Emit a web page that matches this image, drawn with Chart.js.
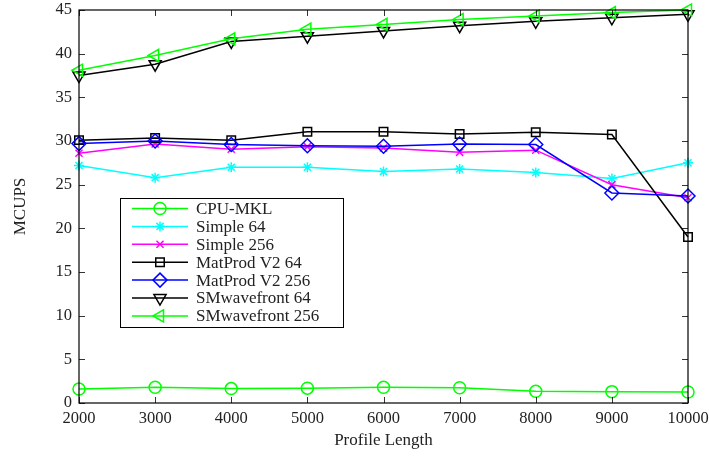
<!DOCTYPE html>
<html>
<head>
<meta charset="utf-8">
<script src="https://cdn.jsdelivr.net/npm/chart.js@4/dist/chart.umd.min.js"></script>
<style>
html,body{margin:0;padding:0;background:#fff;}
#wrap{width:709px;height:460px;}
</style>
</head>
<body>
<div id="wrap"><canvas id="c" width="709" height="460"></canvas></div>
<script>
const profileLengths = [2000, 3000, 4000, 5000, 6000, 7000, 8000, 9000, 10000];
const yTicks = [0, 5, 10, 15, 20, 25, 30, 35, 40, 45];
const seriesNames = ['CPU-MKL', 'Simple 64', 'Simple 256', 'MatProd V2 64', 'MatProd V2 256', 'SMwavefront 64', 'SMwavefront 256'];
const cpuMkl        = [1.6, 1.8, 1.65, 1.7, 1.8, 1.75, 1.35, 1.3, 1.25];
const simple64      = [27.2, 25.8, 27.0, 27.0, 26.5, 26.8, 26.4, 25.7, 27.5];
const simple256     = [28.6, 29.65, 29.05, 29.35, 29.2, 28.7, 28.95, 25.0, 23.5];
const matProd64     = [30.1, 30.35, 30.1, 31.05, 31.05, 30.8, 31.0, 30.75, 19.0];
const matProd256    = [29.7, 30.0, 29.6, 29.45, 29.4, 29.65, 29.6, 24.05, 23.7];
const smWave64      = [37.5, 38.8, 41.4, 42.0, 42.6, 43.2, 43.7, 44.1, 44.5];
const smWave256     = [38.1, 39.8, 41.7, 42.8, 43.35, 43.9, 44.3, 44.7, 45.0];

const GREEN = '#00ff00', CYAN = '#00ffff', MAGENTA = '#ff00ff', BLACK = '#000000', BLUE = '#0000ff';
const FONT = '"Liberation Serif", "DejaVu Serif", serif';

const styles = [
  {color: GREEN,   pointStyle: 'circle',   radius: 6, rotation: 0},
  {color: CYAN,    pointStyle: 'star',     radius: 5, rotation: 0},
  {color: MAGENTA, pointStyle: 'crossRot', radius: 5, rotation: 0},
  {color: BLACK,   pointStyle: 'rect',     radius: 6, rotation: 0},
  {color: BLUE,    pointStyle: 'rectRot',  radius: 7, rotation: 0},
  {color: BLACK,   pointStyle: 'triangle', radius: 7, rotation: 180},
  {color: GREEN,   pointStyle: 'triangle', radius: 7, rotation: 270}
];
const values = [cpuMkl, simple64, simple256, matProd64, matProd256, smWave64, smWave256];

const datasets = values.map((vals, i) => ({
  label: seriesNames[i],
  data: vals.map((v, j) => ({x: profileLengths[j], y: v})),
  borderColor: styles[i].color,
  backgroundColor: 'rgba(0,0,0,0)',
  borderWidth: 1.5,
  pointStyle: styles[i].pointStyle,
  pointRadius: styles[i].radius,
  pointRotation: styles[i].rotation,
  pointBorderColor: styles[i].color,
  pointBackgroundColor: 'rgba(0,0,0,0)',
  pointBorderWidth: 1.5,
  pointHoverRadius: styles[i].radius,
  tension: 0,
  fill: false,
  clip: false,
  order: 10 - i
}));

const framePlugin = {
  id: 'frame',
  afterDraw(chart) {
    const ctx = chart.ctx;
    const a = chart.chartArea;
    const xs = chart.scales.x, ys = chart.scales.y;
    ctx.save();
    ctx.strokeStyle = '#000';
    ctx.lineWidth = 1.2;
    ctx.strokeRect(a.left, a.top, a.right - a.left, a.bottom - a.top);
    ctx.lineWidth = 0.8;
    ctx.beginPath();
    profileLengths.forEach(v => {
      const px = Math.round(xs.getPixelForValue(v)) + 0.5;
      ctx.moveTo(px, a.bottom); ctx.lineTo(px, a.bottom - 6);
      ctx.moveTo(px, a.top); ctx.lineTo(px, a.top + 6);
    });
    yTicks.forEach(v => {
      const py = Math.round(ys.getPixelForValue(v)) + 0.5;
      ctx.moveTo(a.left, py); ctx.lineTo(a.left + 6, py);
      ctx.moveTo(a.right, py); ctx.lineTo(a.right - 6, py);
    });
    ctx.stroke();
    ctx.fillStyle = '#222';
    ctx.font = '17px ' + FONT;
    ctx.textAlign = 'center';
    ctx.textBaseline = 'middle';
    ctx.fillText('Profile Length', (a.left + a.right) / 2, 441);
    ctx.save();
    ctx.translate(21, (a.top + a.bottom) / 2);
    ctx.rotate(-Math.PI / 2);
    ctx.fillText('MCUPS', 0, 0);
    ctx.restore();
    const lx = 120, ly = 198, lw = 223, lh = 129;
    ctx.fillStyle = '#fff';
    ctx.fillRect(lx, ly, lw, lh);
    ctx.strokeStyle = '#000';
    ctx.lineWidth = 1;
    ctx.strokeRect(lx + 0.5, ly + 0.5, lw, lh);
    ctx.font = '17px ' + FONT;
    ctx.textAlign = 'left';
    ctx.textBaseline = 'middle';
    chart.data.datasets.forEach((ds, i) => {
      const y = 208.5 + i * 17.9;
      ctx.strokeStyle = ds.borderColor;
      ctx.lineWidth = 1.5;
      ctx.beginPath();
      ctx.moveTo(132, y); ctx.lineTo(188, y);
      ctx.stroke();
      ctx.fillStyle = 'rgba(0,0,0,0)';
      ctx.strokeStyle = ds.pointBorderColor;
      ctx.lineWidth = 1.5;
      Chart.helpers.drawPoint(ctx, {pointStyle: ds.pointStyle, radius: ds.pointRadius, rotation: ds.pointRotation, borderWidth: 1.5}, 160, y);
      ctx.fillStyle = '#222';
      ctx.fillText(ds.label, 196, y + 1);
    });
    ctx.restore();
  }
};

new Chart(document.getElementById('c'), {
  type: 'line',
  data: {datasets},
  options: {
    responsive: false,
    animation: false,
    devicePixelRatio: 1,
    layout: {padding: {left: 0, right: 21, top: 10, bottom: 0}},
    plugins: {legend: {display: false}, tooltip: {enabled: false}},
    scales: {
      x: {
        type: 'linear',
        min: 2000, max: 10000,
        afterBuildTicks: s => { s.ticks = profileLengths.map(v => ({value: v})); },
        afterFit: s => { s.height = 57; s.paddingLeft = 0; s.paddingRight = 0; },
        grid: {display: false, drawTicks: false},
        border: {display: false},
        ticks: {
          padding: 6,
          color: '#222',
          font: {family: FONT, size: 16.5},
          maxRotation: 0,
          callback: v => String(v)
        }
      },
      y: {
        type: 'linear',
        min: 0, max: 45,
        afterBuildTicks: s => { s.ticks = yTicks.map(v => ({value: v})); },
        afterFit: s => { s.width = 79; s.paddingTop = 0; s.paddingBottom = 0; },
        grid: {display: false, drawTicks: false},
        border: {display: false},
        ticks: {
          padding: 7,
          color: '#222',
          font: {family: FONT, size: 16.5},
          callback: v => String(v)
        }
      }
    }
  },
  plugins: [framePlugin]
});
</script>
</body>
</html>
